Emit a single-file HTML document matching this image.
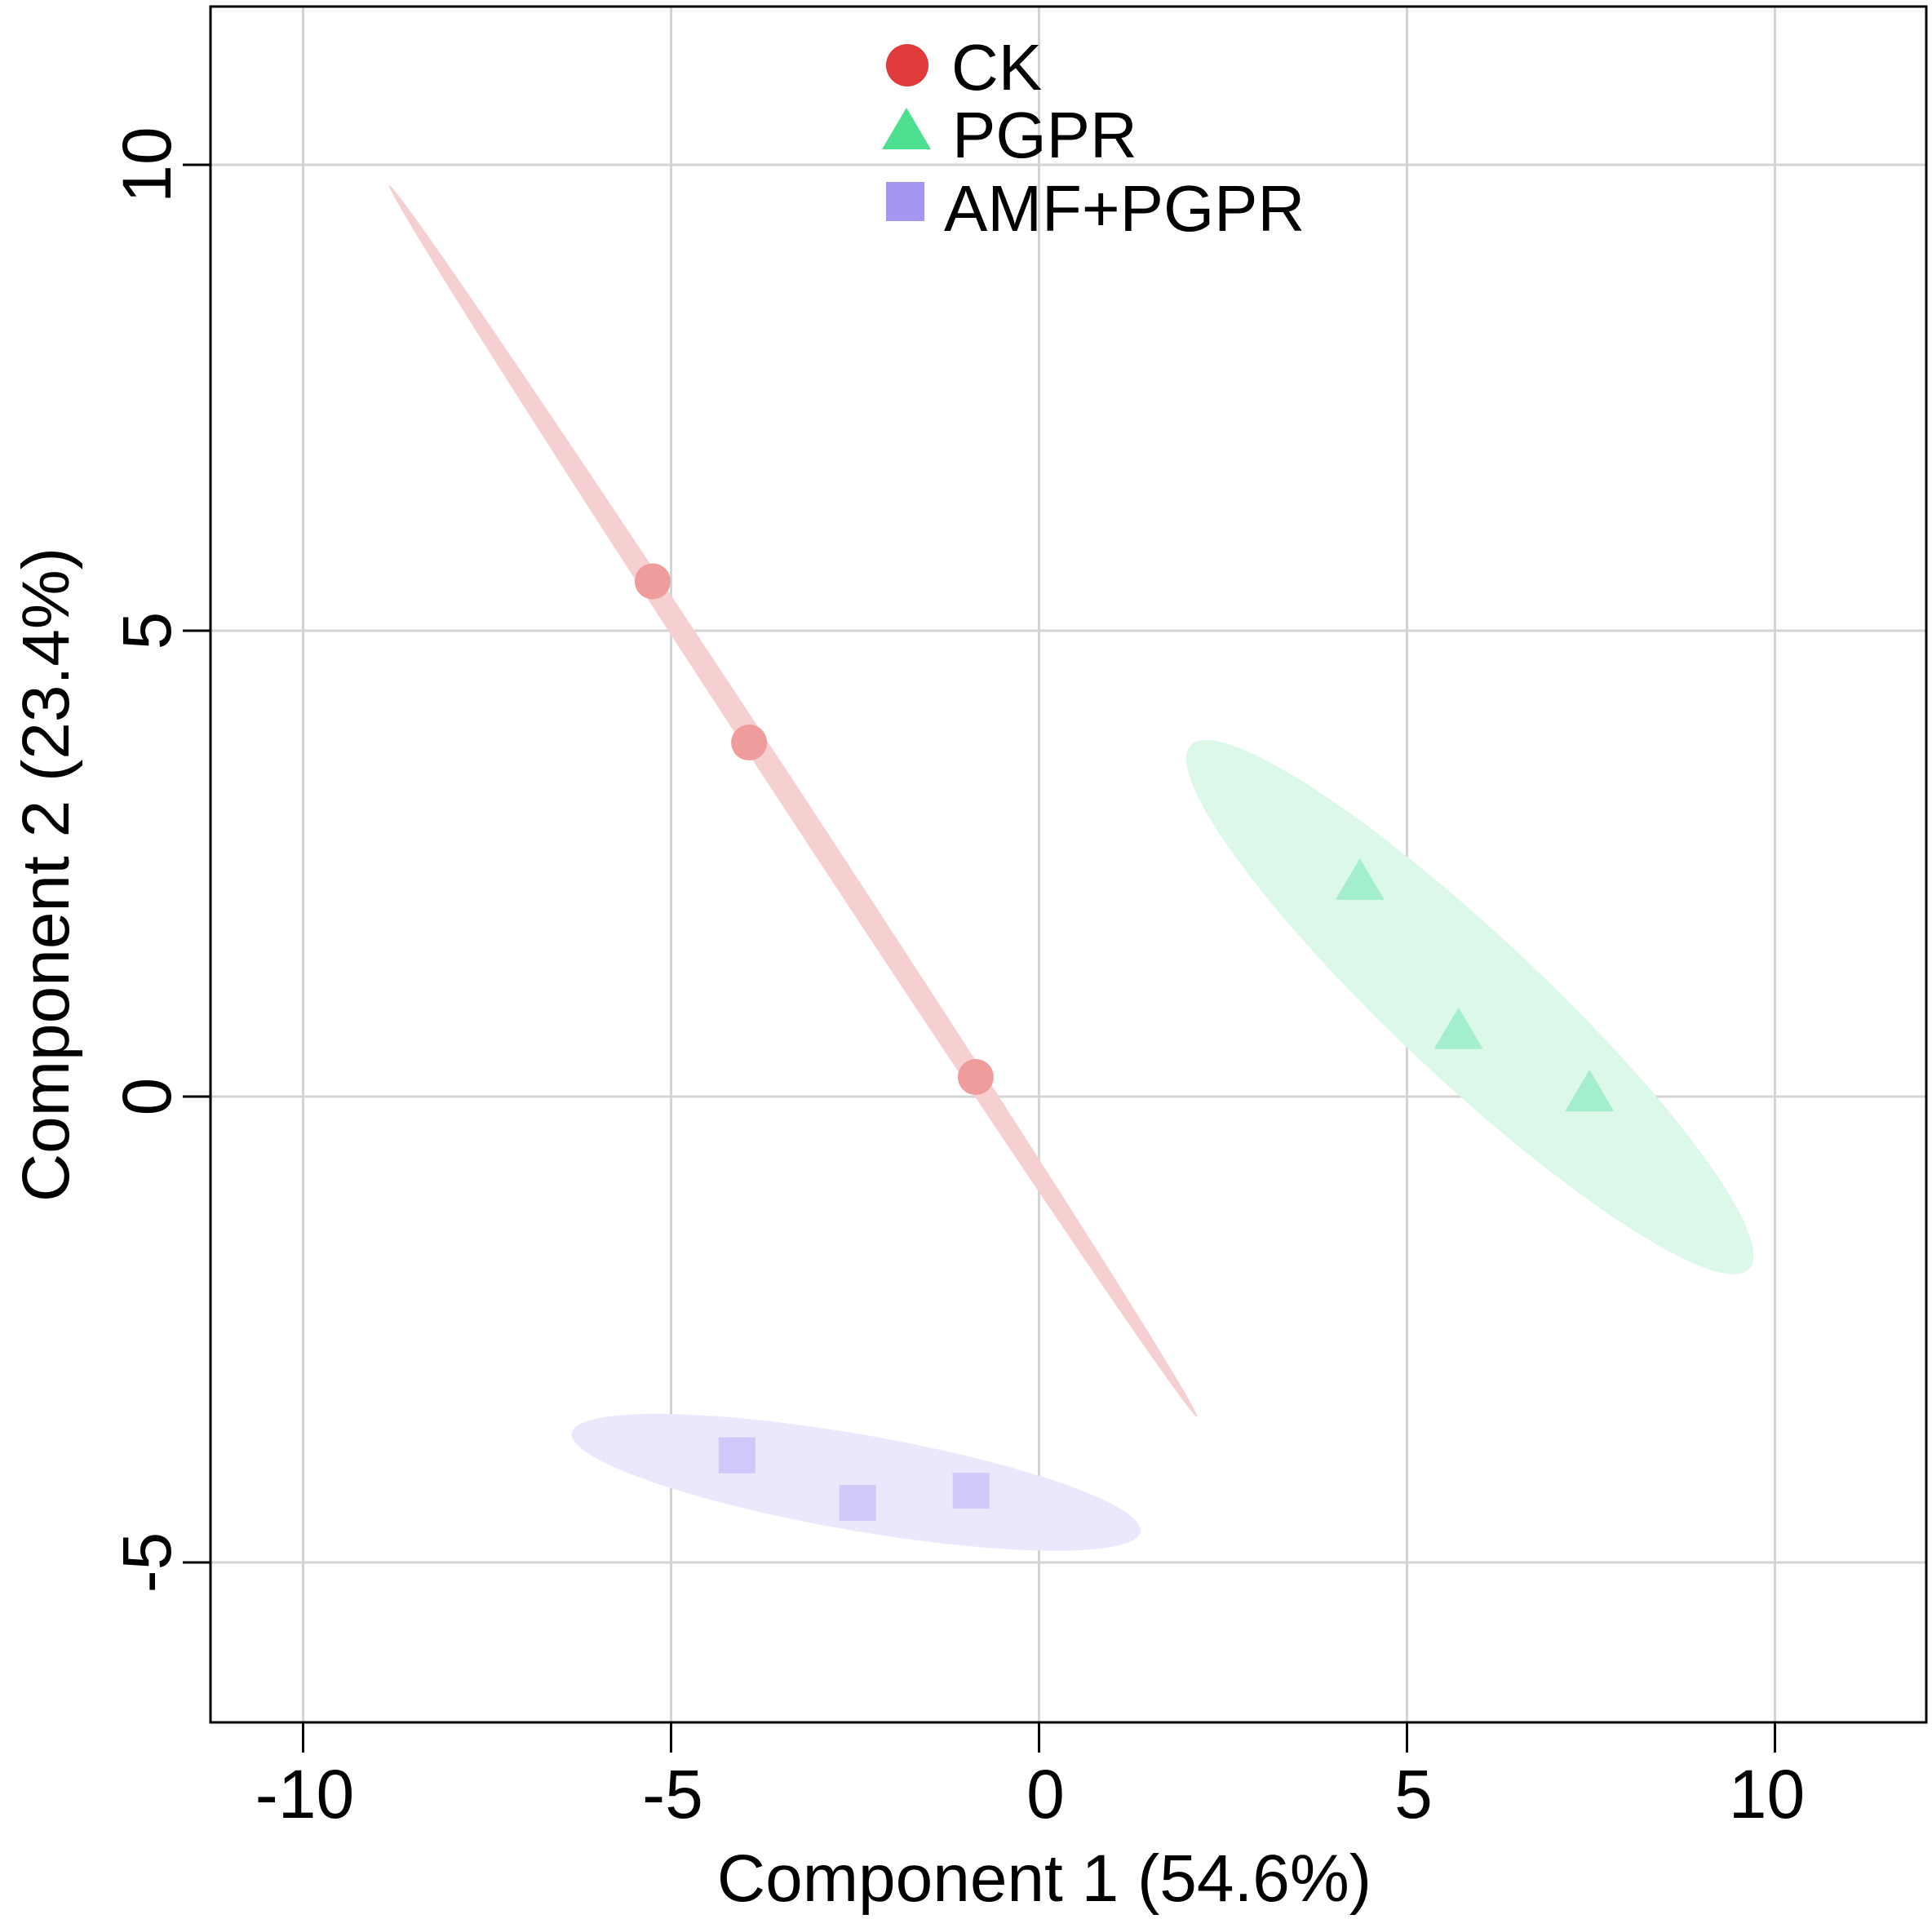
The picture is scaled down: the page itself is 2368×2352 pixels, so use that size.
<!DOCTYPE html>
<html><head><meta charset="utf-8"><style>
html,body{margin:0;padding:0;background:#fff}
svg{display:block}
text{font-family:"Liberation Sans",Arial,sans-serif;fill:#000}
</style></head><body>
<svg id="chart" width="2368" height="2352" viewBox="0 0 2368 2352" xmlns="http://www.w3.org/2000/svg">
<g id="grid"></g>
<g id="ellipses"></g>
<g id="points"></g>
<rect x="258" y="8" width="2103" height="2103" fill="none" stroke="#000" stroke-width="3"/>
<g id="axes"></g>
<text x="1280" y="2330" font-size="82" text-anchor="middle">Component 1 (54.6%)</text>
<text transform="translate(84,1072) rotate(-90)" font-size="82" text-anchor="middle">Component 2 (23.4%)</text>
<g>
  <circle cx="1112" cy="80" r="26" fill="#e03a3a"/>
  <text x="1166" y="110" font-size="80">CK</text>
  <polygon points="1111,132 1141,183 1081,183" fill="#4cdf8f"/>
  <text x="1167" y="193" font-size="80">PGPR</text>
  <rect x="1086" y="223" width="47" height="48" fill="#a497f1"/>
  <text x="1157" y="283" font-size="80">AMF+PGPR</text>
</g>
</svg>
<script>
const xTicks = [-10, -5, 0, 5, 10];
const yTicks = [-5, 0, 5, 10];
const groups = ['CK', 'PGPR', 'AMF+PGPR'];
const ckX = [-5.25, -3.94, -0.86];
const ckY = [5.53, 3.80, 0.21];
const pgprX = [4.36, 5.70, 7.48];
const pgprY = [2.33, 0.73, 0.06];
const amfX = [-4.11, -2.47, -0.93];
const amfY = [-3.85, -4.36, -4.23];
// ellipse major-axis endpoints (data units)
const ckEllipse = [-8.83, 9.78, 2.15, -3.44];
const pgprEllipse = [2.06, 3.77, 9.65, -1.85];
const amfEllipse = [-6.35, -3.61, 1.38, -4.67];

const X0 = 1273.5, XS = 90.2, Y0 = 1344, YS = 114.2;
const PL = 258, PR = 2361, PT = 8, PB = 2111;
const sx = v => X0 + v * XS;
const sy = v => Y0 - v * YS;
const NS = 'http://www.w3.org/2000/svg';
function mk(tag, attrs, parent){const e=document.createElementNS(NS,tag);for(const k in attrs)e.setAttribute(k,attrs[k]);parent.appendChild(e);return e;}

const grid = document.getElementById('grid');
const axes = document.getElementById('axes');
xTicks.forEach(t => {
  const gl = mk('line',{x1:sx(t),x2:sx(t),y1:PT,y2:PB,stroke:'#d4d4d4','stroke-width':3},grid);
  
  
  const tk = mk('line',{x1:sx(t),x2:sx(t),y1:PB,y2:2148,stroke:'#000','stroke-width':3},axes);
  
  
  const lb = mk('text',{x:sx(t)+(t<0?2:(t>5?-10:8)),y:2228,'font-size':84,'text-anchor':'middle'},axes);
  lb.textContent = t;
  
  
});
yTicks.forEach(t => {
  const gl = mk('line',{x1:PL,x2:PR,y1:sy(t),y2:sy(t),stroke:'#d4d4d4','stroke-width':3},grid);
  
  
  const tk = mk('line',{x1:224,x2:PL,y1:sy(t),y2:sy(t),stroke:'#000','stroke-width':3},axes);
  
  
  const lb = mk('text',{transform:`translate(209,${sy(t)}) rotate(-90)`,'font-size':84,'text-anchor':'middle'},axes);
  lb.textContent = t;
  
  
});

const ell = document.getElementById('ellipses');
function drawEllipse(e, minor, fill, name){
  const x1=sx(e[0]),y1=sy(e[1]),x2=sx(e[2]),y2=sy(e[3]);
  const cx=(x1+x2)/2, cy=(y1+y2)/2;
  const rx=Math.hypot(x2-x1,y2-y1)/2;
  const ang=Math.atan2(y2-y1,x2-x1)*180/Math.PI;
  const el = mk('ellipse',{cx:cx,cy:cy,rx:rx,ry:minor/2,fill:fill,transform:`rotate(${ang} ${cx} ${cy})`},ell);
  
  
}
drawEllipse(ckEllipse, 28, '#f6d0d0', 'ellipse-ck');
drawEllipse(pgprEllipse, 178, '#dbf8e9', 'ellipse-pgpr');
drawEllipse(amfEllipse, 118, '#ebe7fd', 'ellipse-amf-pgpr');

const pts = document.getElementById('points');
ckX.forEach((v,i) => {
  const c = mk('circle',{cx:sx(v),cy:sy(ckY[i]),r:22,fill:'#ee9c9c'},pts);
  
  
});
pgprX.forEach((v,i) => {
  const x=sx(v), y=sy(pgprY[i]);
  const p = mk('polygon',{points:`${x},${y-26} ${x+30},${y+25} ${x-30},${y+25}`,fill:'#a4efcb'},pts);
  
  
});
amfX.forEach((v,i) => {
  const r = mk('rect',{x:sx(v)-22,y:sy(amfY[i])-22,width:45,height:44,fill:'#d0c8f8'},pts);
  
  
});
</script>
</body></html>
